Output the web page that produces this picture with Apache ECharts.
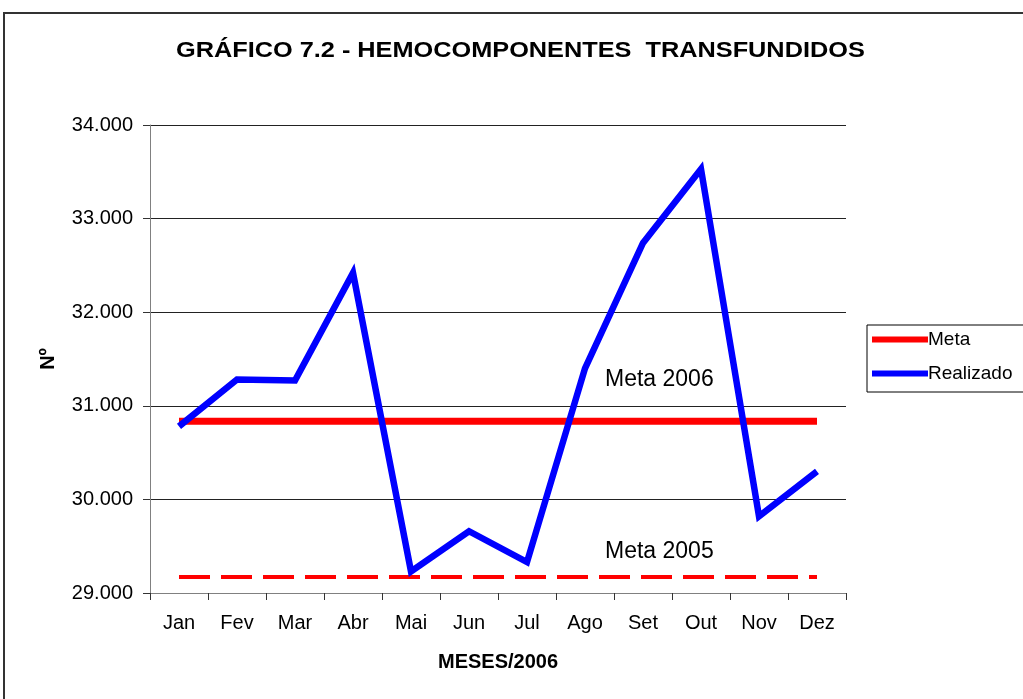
<!DOCTYPE html>
<html>
<head>
<meta charset="utf-8">
<script src="https://cdn.jsdelivr.net/npm/echarts@6/dist/echarts.min.js"></script>
<style>
html,body{margin:0;padding:0;background:#fff;}
#c{width:1023px;height:699px;}
</style>
</head>
<body>
<div id="c"></div>
<script>
const months = ['Jan','Fev','Mar','Abr','Mai','Jun','Jul','Ago','Set','Out','Nov','Dez'];
const realizado = [30780, 31280, 31270, 32420, 29230, 29660, 29330, 31400, 32740, 33530, 29820, 30300];
const meta2006 = [30835, 30835, 30835, 30835, 30835, 30835, 30835, 30835, 30835, 30835, 30835, 30835];
const meta2005 = [29170, 29170, 29170, 29170, 29170, 29170, 29170, 29170, 29170, 29170, 29170, 29170];
const yMin = 29000, yMax = 34000, yStep = 1000;

const FONT = '"Liberation Sans", Arial, sans-serif';
const chart = echarts.init(document.getElementById('c'), null, {renderer:'canvas'});
chart.setOption({
  animation: false,
  backgroundColor: '#fff',
  legend: {
    orient: 'vertical',
    left: 867, top: 325,
    padding: [5, 30, 9, 5],
    itemGap: 15,
    itemWidth: 56, itemHeight: 6,
    borderColor: '#000', borderWidth: 1,
    textStyle: {fontFamily: FONT, fontSize: 19, color: '#000', padding: [0,0,0,-5]},
    data: [{name:'Meta', icon:'rect'}, {name:'Realizado', icon:'rect'}]
  },
  grid: {left: 150, right: 177, top: 125, bottom: 106},
  xAxis: {
    type: 'category',
    data: months,
    boundaryGap: true,
    name: 'MESES/2006',
    nameLocation: 'middle',
    nameGap: 59,
    nameTextStyle: {fontFamily: FONT, fontSize: 20, fontWeight: 'bold', color: '#000'},
    axisLine: {lineStyle: {color: '#808080', width: 1}},
    axisTick: {show: true, interval: 0, length: 7, lineStyle: {color: '#333'}},
    axisLabel: {fontFamily: FONT, fontSize: 20, color: '#000', margin: 20, interval: 0}
  },
  yAxis: {
    type: 'value',
    min: yMin, max: yMax, interval: yStep,
    name: 'Nº',
    nameLocation: 'middle',
    nameRotate: 90,
    nameGap: 92,
    nameTextStyle: {fontFamily: FONT, fontSize: 20, fontWeight: 'bold', color: '#000'},
    axisLine: {show: true, lineStyle: {color: '#808080', width: 1}},
    axisTick: {show: true, length: 7, lineStyle: {color: '#333'}},
    axisLabel: {
      fontFamily: FONT, fontSize: 20, color: '#000', margin: 17,
      formatter: v => String(v).replace(/\B(?=(\d{3})+(?!\d))/g, '.')
    },
    splitLine: {show: true, lineStyle: {color: '#222', width: 1}}
  },
  series: [
    {
      name: 'Meta', type: 'line', data: meta2006,
      symbol: 'none', z: 2,
      itemStyle: {color: '#ff0000'},
      lineStyle: {color: '#ff0000', width: 7, cap: 'butt'}
    },
    {
      name: 'Meta 2005', type: 'line', data: meta2005,
      symbol: 'none', z: 2,
      itemStyle: {color: '#ff0000'},
      lineStyle: {color: '#ff0000', width: 4, type: [31, 11], cap: 'butt'}
    },
    {
      name: 'Realizado', type: 'line', data: realizado,
      symbol: 'none', z: 3,
      itemStyle: {color: '#0000ff'},
      lineStyle: {color: '#0000ff', width: 6.5, join: 'miter', cap: 'butt'}
    }
  ],
  graphic: [
    {type: 'rect', shape: {x: 4, y: 13, width: 1100, height: 800},
     style: {fill: 'none', stroke: '#333', lineWidth: 2}, z: 100},
    {type: 'text', x: 176, y: 51, scaleX: 1.15, scaleY: 1,
     style: {text: 'GRÁFICO 7.2 - HEMOCOMPONENTES  TRANSFUNDIDOS', fontFamily: FONT,
             fontSize: 22, fontWeight: 'bold', fill: '#000', verticalAlign: 'middle', align: 'left'}, z: 50},
    {type: 'text', left: 605, top: 368,
     style: {text: 'Meta 2006', fontFamily: FONT, fontSize: 23, fill: '#000'}, z: 50},
    {type: 'text', left: 605, top: 540,
     style: {text: 'Meta 2005', fontFamily: FONT, fontSize: 23, fill: '#000'}, z: 50}
  ]
});
</script>
</body>
</html>
